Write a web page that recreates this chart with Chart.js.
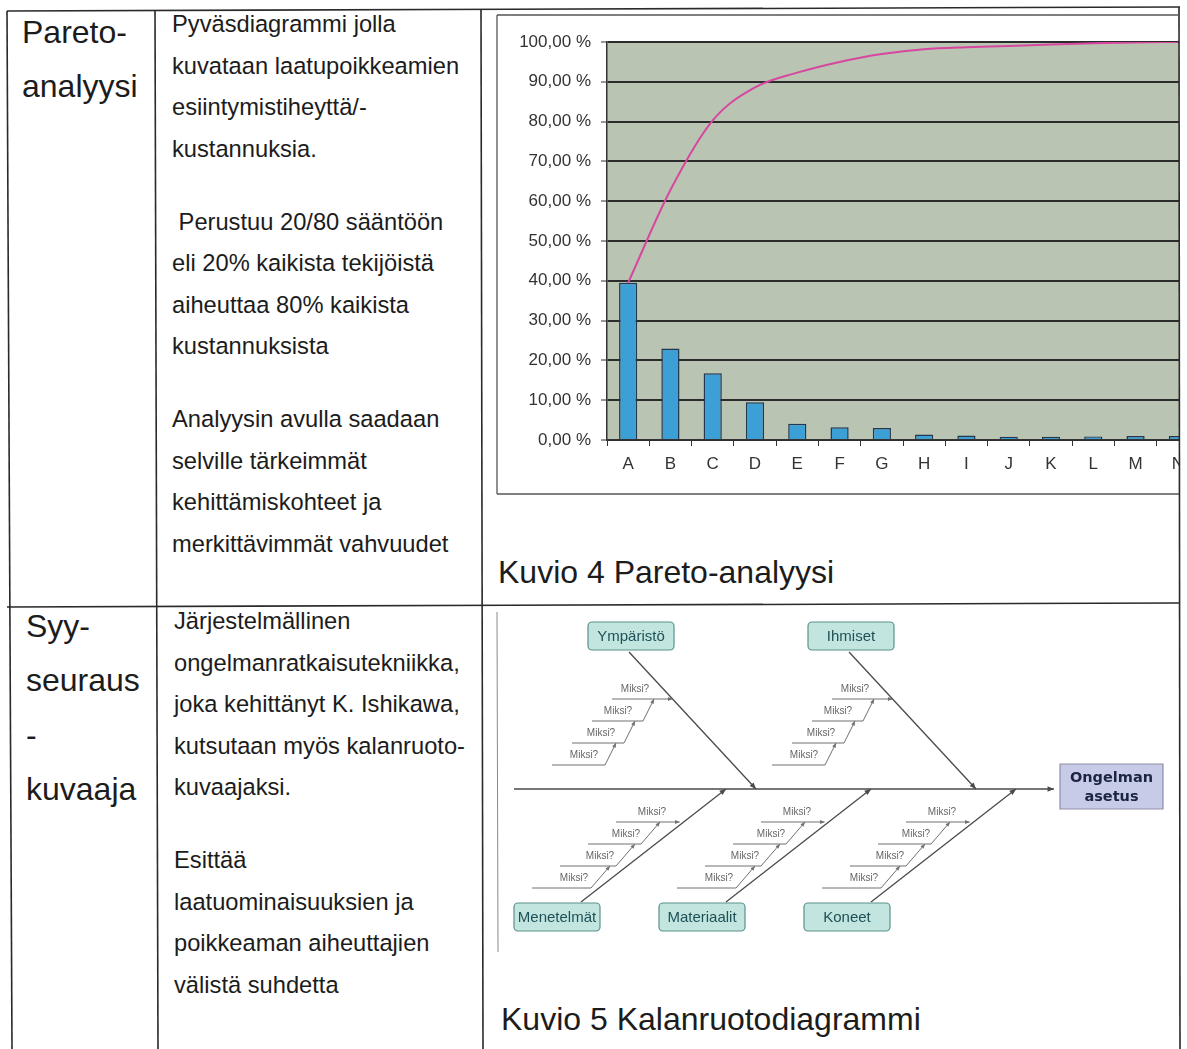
<!DOCTYPE html>
<html lang="fi">
<head>
<meta charset="utf-8">
<title>Pareto ja kalanruoto</title>
<script src="https://cdn.jsdelivr.net/npm/chart.js@4.4.1/dist/chart.umd.min.js"></script>
<style>
    body {
        margin: 0;
        width: 1187px;
        height: 1049px;
        position: relative;
        overflow: hidden;
        background: #fff;
        font-family: 'Liberation Sans', Arial, sans-serif;
        color: #1c1c1c;
    }
    .abs { position: absolute; white-space: nowrap; }
    .head { font-size: 32px; line-height: 54.5px; }
    .desc { font-size: 23.7px; line-height: 41.5px; }
    .desc p { margin: 0; }
    .desc p + p { margin-top: 31.5px; }
    .caption { font-size: 32px; line-height: 40px; }
    #paretoWrap { position: absolute; left: 497px; top: 15px; width: 682px; height: 479px; overflow: hidden; }
    #fishWrap { position: absolute; left: 497px; top: 605px; width: 682px; height: 355px; }
    svg { position: absolute; left: 0; top: 0; }
</style>
</head>
<body>

<div class="abs head" style="left:22px; top:4.6px;">Pareto-<br>analyysi</div>
<div class="abs desc" style="left:172px; top:4px;">
    <p>Pyväsdiagrammi jolla<br>kuvataan laatupoikkeamien<br>esiintymistiheyttä/-<br>kustannuksia.</p>
    <p>&nbsp;Perustuu 20/80 sääntöön<br>eli 20% kaikista tekijöistä<br>aiheuttaa 80% kaikista<br>kustannuksista</p>
    <p>Analyysin avulla saadaan<br>selville tärkeimmät<br>kehittämiskohteet ja<br>merkittävimmät vahvuudet</p>
</div>
<div class="abs caption" style="left:498px; top:552px;">Kuvio 4 Pareto-analyysi</div>

<div class="abs head" style="left:26px; top:598.6px;">Syy-<br>seuraus<br>-<br>kuvaaja</div>
<div class="abs desc" style="left:174px; top:601px;">
    <p>Järjestelmällinen<br>ongelmanratkaisutekniikka,<br>joka kehittänyt K. Ishikawa,<br>kutsutaan myös kalanruoto-<br>kuvaajaksi.</p>
    <p>Esittää<br>laatuominaisuuksien ja<br>poikkeaman aiheuttajien<br>välistä suhdetta</p>
</div>
<div class="abs caption" style="left:501px; top:999px;">Kuvio 5 Kalanruotodiagrammi</div>

<div id="paretoWrap"><canvas id="paretoChart" width="712" height="479"></canvas></div>
<div id="fishWrap"><canvas id="fishChart" width="682" height="355"></canvas></div>

<svg width="1187" height="1049">
    <g stroke="#2a2a2a" stroke-width="1.6" fill="none">
        <line x1="7" y1="11" x2="1180" y2="7"/>
        <line x1="7" y1="11" x2="12" y2="1049"/>
        <line x1="155" y1="11" x2="158" y2="1049"/>
        <line x1="481" y1="9" x2="483" y2="1049"/>
        <line x1="1179" y1="7" x2="1180" y2="1049"/>
        <line x1="7" y1="607" x2="1180" y2="603"/>
    </g>
    <g stroke="#555" stroke-width="1.3" fill="none">
        <line x1="497" y1="15" x2="1179" y2="15"/>
        <line x1="497" y1="15" x2="497" y2="494"/>
        <line x1="497" y1="494" x2="1179" y2="494"/>
    </g>
    <line x1="497" y1="612" x2="498" y2="952" stroke="#8a8a8a" stroke-width="1"/>
</svg>

<script>
// pareto data
const categories = ['A', 'B', 'C', 'D', 'E', 'F', 'G', 'H', 'I', 'J', 'K', 'L', 'M', 'N'];
const shareValues = [39.5, 23.0, 16.8, 9.5, 4.1, 3.2, 3.0, 1.4, 1.1, 0.8, 0.8, 0.9, 1.0, 1.0];
const cumulativeValues = [39.5, 62.8, 80.3, 88.6, 92.3, 95.0, 97.0, 98.2, 98.7, 99.0, 99.4, 99.7, 99.9, 100.0];

// fishbone data
const causesTop = ['Ympäristö', 'Ihmiset'];
const causesBottom = ['Menetelmät', 'Materiaalit', 'Koneet'];
const whyLabels = ['Miksi?', 'Miksi?', 'Miksi?', 'Miksi?'];
const effectLabel = ['Ongelman', 'asetus'];

const fontFamily = "'Liberation Sans', Arial, sans-serif";

function percentLabel(v) {
    return v.toFixed(2).replace('.', ',') + ' %';
}

const plotBackground = {
    id: 'plotBackground',
    beforeDraw(chart) {
        const ctx = chart.ctx;
        const a = chart.chartArea;
        ctx.save();
        ctx.fillStyle = '#b9c4b3';
        ctx.fillRect(a.left, a.top, a.right - a.left, a.bottom - a.top);
        ctx.restore();
    }
};

new Chart(document.getElementById('paretoChart').getContext('2d'), {
    type: 'bar',
    data: {
        labels: categories,
        datasets: [{
            type: 'line',
            label: 'Kumulatiivinen',
            data: cumulativeValues,
            borderColor: '#d8479f',
            borderWidth: 2,
            pointRadius: 0,
            cubicInterpolationMode: 'monotone',
            order: 0
        }, {
            type: 'bar',
            label: 'Osuus',
            data: shareValues,
            backgroundColor: '#3c9fd6',
            borderColor: '#23384f',
            borderWidth: 1.5,
            barPercentage: 0.43,
            categoryPercentage: 1,
            order: 1
        }]
    },
    options: {
        responsive: false,
        animation: false,
        layout: { padding: { top: 27, left: 0, right: 10, bottom: 0 } },
        plugins: { legend: { display: false }, tooltip: { enabled: false } },
        scales: {
            x: {
                grid: { display: true, drawOnChartArea: false, drawTicks: true, tickLength: 6, color: '#333', offset: true },
                border: { color: '#333', width: 1.5 },
                ticks: { color: '#333', font: { size: 17, family: fontFamily }, padding: 8 },
                afterFit: function (scale) { scale.height = 54; }
            },
            y: {
                min: 0,
                max: 100,
                ticks: {
                    stepSize: 10,
                    color: '#333',
                    padding: 10,
                    font: { size: 17, family: fontFamily },
                    callback: function (v) { return percentLabel(v); }
                },
                grid: { color: '#2b2b2b', lineWidth: 2, tickLength: 6, tickColor: '#333', tickWidth: 1 },
                border: { color: '#333', width: 1.5 },
                afterFit: function (scale) { scale.width = 110; }
            }
        }
    },
    plugins: [plotBackground]
});

// fishbone layout, units are canvas pixels
const spineY = 184;
const spineStart = 17;
const spineEnd = 557;
const boxW = 86, boxH = 28;
const topCenters = [134, 354];
const bottomCenters = [60, 205, 350];

const segments = [];   // {x1,y1,x2,y2,color,width,arrow}
const texts = [];      // {x,y,text}
const boxes = [];      // {cx,cy,text}

segments.push({ x1: spineStart, y1: spineY, x2: spineEnd, y2: spineY, color: '#4a4a4a', width: 1.4, arrow: true });

causesTop.forEach(function (name, i) {
    const cx = topCenters[i];
    boxes.push({ cx: cx, cy: 31, text: name });
    const bx = cx - 2, by = 47, ex = cx + 125;
    const slope = (ex - bx) / (spineY - by);
    segments.push({ x1: bx, y1: by, x2: ex, y2: spineY, color: '#4a4a4a', width: 1.3, arrow: true });
    whyLabels.forEach(function (label, k) {
        const y = 94 + 22 * k;
        const left = bx - 17 - 20 * k;
        const right = k === 0 ? bx + (y - by) * slope : bx + 14 - 19 * (k - 1);
        segments.push({ x1: left, y1: y, x2: right, y2: y, color: '#707070', width: 1, arrow: k === 0 });
        if (k > 0) {
            segments.push({ x1: right, y1: y, x2: right + 11, y2: y - 22, color: '#707070', width: 1, arrow: true });
        }
        texts.push({ x: bx + 6 - 17 * k, y: y - 10, text: label });
    });
});

causesBottom.forEach(function (name, i) {
    const cx = bottomCenters[i];
    boxes.push({ cx: cx, cy: 312, text: name });
    const bx = cx + 24, by = 297, ex = cx + 169;
    const slope = (ex - bx) / (by - spineY);
    segments.push({ x1: bx, y1: by, x2: ex, y2: spineY, color: '#4a4a4a', width: 1.3, arrow: true });
    whyLabels.forEach(function (label, k) {
        const y = 217 + 22 * k;
        const left = bx + 35 - 28 * k;
        const right = k === 0 ? bx + (by - y) * slope - 4 : bx + 60 - 25 * (k - 1);
        segments.push({ x1: left, y1: y, x2: right, y2: y, color: '#707070', width: 1, arrow: k === 0 });
        if (k > 0) {
            segments.push({ x1: right, y1: y, x2: right + 19, y2: y - 22, color: '#707070', width: 1, arrow: true });
        }
        texts.push({ x: bx + 71 - 26 * k, y: y - 10, text: label });
    });
});

const fishDecor = {
    id: 'fishDecor',
    afterDatasetsDraw(chart) {
        const ctx = chart.ctx;
        const sx = chart.scales.x, sy = chart.scales.y;
        const px = function (v) { return sx.getPixelForValue(v); };
        const py = function (v) { return sy.getPixelForValue(v); };
        ctx.save();

        // arrow heads
        segments.forEach(function (s) {
            if (!s.arrow) return;
            const x2 = px(s.x2), y2 = py(s.y2);
            const ang = Math.atan2(y2 - py(s.y1), x2 - px(s.x1));
            const len = s.width > 1.2 ? 7 : 5;
            ctx.fillStyle = s.color;
            ctx.beginPath();
            ctx.moveTo(x2, y2);
            ctx.lineTo(x2 - len * Math.cos(ang - 0.4), y2 - len * Math.sin(ang - 0.4));
            ctx.lineTo(x2 - len * Math.cos(ang + 0.4), y2 - len * Math.sin(ang + 0.4));
            ctx.closePath();
            ctx.fill();
        });

        // Miksi? labels
        ctx.fillStyle = '#666';
        ctx.font = '10px ' + fontFamily;
        ctx.textAlign = 'center';
        ctx.textBaseline = 'middle';
        texts.forEach(function (t) { ctx.fillText(t.text, px(t.x), py(t.y)); });

        // cause boxes
        boxes.forEach(function (b) {
            const x = px(b.cx - boxW / 2), y = py(b.cy - boxH / 2);
            ctx.beginPath();
            ctx.roundRect(x, y, boxW, boxH, 4);
            ctx.fillStyle = '#c2e6df';
            ctx.fill();
            ctx.lineWidth = 1.2;
            ctx.strokeStyle = '#5b918b';
            ctx.stroke();
            ctx.fillStyle = '#1f4f57';
            ctx.font = '15px ' + fontFamily;
            ctx.fillText(b.text, px(b.cx), py(b.cy) + 1);
        });

        // effect box
        ctx.beginPath();
        ctx.rect(px(563), py(159), 103, 45);
        ctx.fillStyle = '#c8cbe8';
        ctx.fill();
        ctx.lineWidth = 1.2;
        ctx.strokeStyle = '#8d8fa8';
        ctx.stroke();
        ctx.fillStyle = '#1b2440';
        ctx.font = "bold 14.5px 'DejaVu Sans', Verdana, sans-serif";
        ctx.fillText(effectLabel[0], px(614.5), py(173));
        ctx.fillText(effectLabel[1], px(614.5), py(192));
        ctx.restore();
    }
};

new Chart(document.getElementById('fishChart').getContext('2d'), {
    type: 'scatter',
    data: {
        datasets: segments.map(function (s) {
            return {
                data: [{ x: s.x1, y: s.y1 }, { x: s.x2, y: s.y2 }],
                showLine: true,
                pointRadius: 0,
                borderColor: s.color,
                borderWidth: s.width
            };
        })
    },
    options: {
        responsive: false,
        animation: false,
        layout: { padding: 0 },
        plugins: { legend: { display: false }, tooltip: { enabled: false } },
        scales: {
            x: { type: 'linear', min: 0, max: 682, display: false },
            y: { type: 'linear', min: 0, max: 355, reverse: true, display: false }
        }
    },
    plugins: [fishDecor]
});
</script>
</body>
</html>
